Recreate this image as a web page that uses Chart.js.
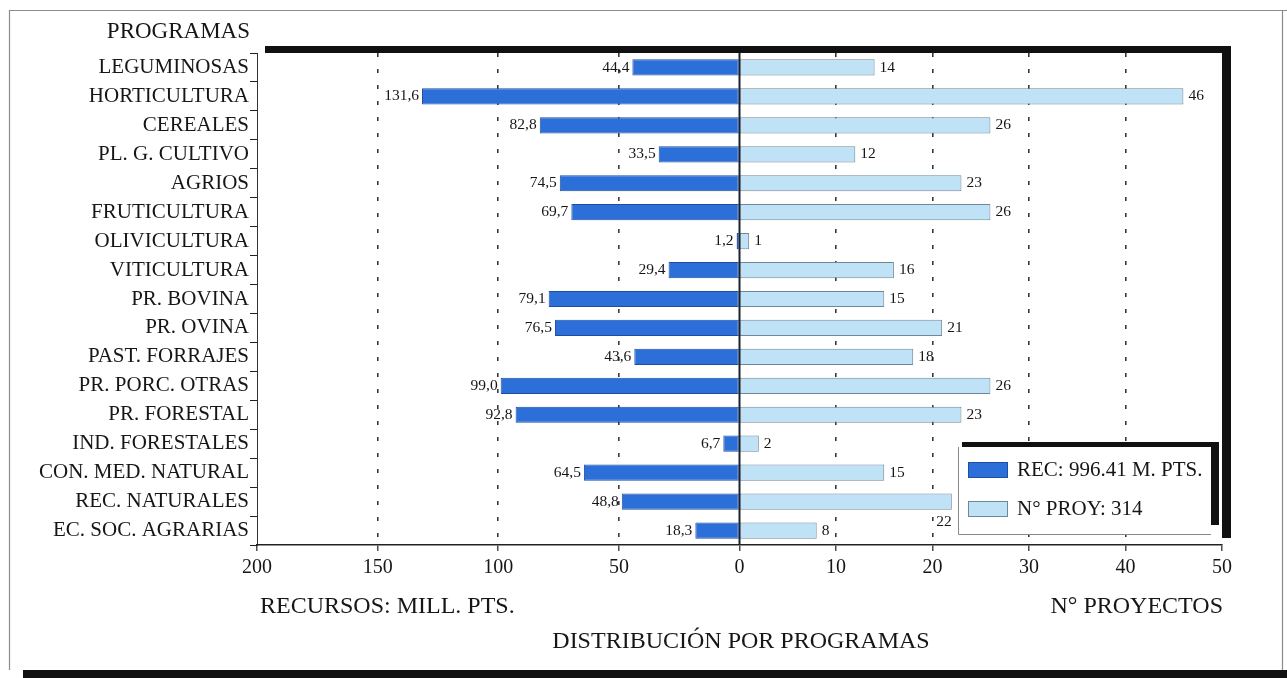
<!DOCTYPE html>
<html>
<head>
<meta charset="utf-8">
<script src="https://cdn.jsdelivr.net/npm/chart.js@4/dist/chart.umd.min.js"></script>
<style>
  html, body { margin: 0; padding: 0; background: #fff; }
  canvas { display: block; }
</style>
</head>
<body>
<canvas id="c" width="1287" height="678"></canvas>
<script>
// ---- data ----
const categories = [
  'LEGUMINOSAS', 'HORTICULTURA', 'CEREALES', 'PL. G. CULTIVO', 'AGRIOS',
  'FRUTICULTURA', 'OLIVICULTURA', 'VITICULTURA', 'PR. BOVINA', 'PR. OVINA',
  'PAST. FORRAJES', 'PR. PORC. OTRAS', 'PR. FORESTAL', 'IND. FORESTALES',
  'CON. MED. NATURAL', 'REC. NATURALES', 'EC. SOC. AGRARIAS'
];
const recursos = [44.4, 131.6, 82.8, 33.5, 74.5, 69.7, 1.2, 29.4, 79.1, 76.5, 43.6, 99.0, 92.8, 6.7, 64.5, 48.8, 18.3];
const proyectos = [14, 46, 26, 12, 23, 26, 1, 16, 15, 21, 18, 26, 23, 2, 15, 22, 8];
const recTicks = [200, 150, 100, 50, 0];
const proyTicks = [10, 20, 30, 40, 50];
const recMax = 200;
const proyMax = 50;
const recLegend = 'REC: 996.41 M. PTS.';
const proyLegend = 'N° PROY: 314';
const yTitle = 'PROGRAMAS';
const recTitle = 'RECURSOS: MILL. PTS.';
const proyTitle = 'N° PROYECTOS';
const mainTitle = 'DISTRIBUCIÓN POR PROGRAMAS';
const labelBelow = [15]; // value label drawn under the bar end (as in source)

// ---- styles ----
const SERIF = "'Liberation Serif', 'Times New Roman', serif";
const DARK = '#2c6fd9';
const DARK_BORDER = '#1d4f9e';
const LIGHT = '#bfe2f6';
const LIGHT_BORDER = '#6f8799';
const INK = '#161616';

Chart.defaults.font.family = SERIF;
Chart.defaults.color = INK;

const fmtRec = v => v.toFixed(1).replace('.', ',');

const decor = {
  id: 'decor',
  beforeDraw(chart) {
    const { ctx, chartArea: a } = chart;
    ctx.save();
    ctx.fillStyle = '#fff';
    ctx.fillRect(0, 0, chart.width, chart.height);
    // page frame
    ctx.strokeStyle = '#8c8c8c';
    ctx.lineWidth = 1.2;
    ctx.beginPath();
    ctx.moveTo(9.5, 670); ctx.lineTo(9.5, 10.5); ctx.lineTo(1287, 10.5);
    ctx.stroke();
    ctx.beginPath();
    ctx.moveTo(1282.5, 10); ctx.lineTo(1282.5, 670);
    ctx.stroke();
    ctx.fillStyle = '#111';
    ctx.fillRect(23, 670, chart.width - 23, 8);
    // plot shadow
    ctx.fillStyle = '#111';
    ctx.fillRect(a.left + 8, a.top - 7, a.width + 1, a.height);
    ctx.fillStyle = '#fff';
    ctx.fillRect(a.left, a.top, a.width, a.height);
    ctx.restore();
  },
  afterDatasetsDraw(chart) {
    const { ctx, chartArea: a } = chart;
    const xL = chart.scales.xL;
    ctx.save();
    // center line
    const cx = xL.getPixelForValue(0);
    ctx.strokeStyle = '#1b2233';
    ctx.lineWidth = 2;
    ctx.beginPath();
    ctx.moveTo(cx, a.top); ctx.lineTo(cx, a.bottom);
    ctx.stroke();
    // value labels
    ctx.font = '15.5px ' + SERIF;
    ctx.fillStyle = INK;
    ctx.textBaseline = 'middle';
    const m0 = chart.getDatasetMeta(0);
    const m1 = chart.getDatasetMeta(1);
    m0.data.forEach((bar, i) => {
      ctx.textAlign = 'right';
      ctx.fillText(fmtRec(recursos[i]), bar.x - 3, bar.y);
    });
    m1.data.forEach((bar, i) => {
      if (labelBelow.includes(i)) {
        ctx.textAlign = 'right';
        ctx.fillText(String(proyectos[i]), bar.x, bar.y + 20);
      } else {
        ctx.textAlign = 'left';
        ctx.fillText(String(proyectos[i]), bar.x + 5, bar.y);
      }
    });
    ctx.restore();
  },
  afterDraw(chart) {
    const { ctx, chartArea: a } = chart;
    ctx.save();
    // legend
    const L = 958, T = 447, R = 1211, B = 535;
    ctx.fillStyle = '#111';
    ctx.fillRect(L + 4, T - 5, R - L + 4, B - T - 5);
    ctx.fillStyle = '#fff';
    ctx.fillRect(L, T, R - L, B - T);
    ctx.strokeStyle = '#8a8a8a';
    ctx.lineWidth = 1;
    ctx.beginPath();
    ctx.moveTo(L + 0.5, T); ctx.lineTo(L + 0.5, B - 0.5); ctx.lineTo(R, B - 0.5);
    ctx.stroke();
    const ds = chart.data.datasets;
    const rows = [470, 509];
    ds.forEach((d, k) => {
      ctx.fillStyle = d.backgroundColor;
      ctx.fillRect(968, rows[k] - 8, 40, 16);
      ctx.strokeStyle = d.borderColor;
      ctx.lineWidth = 1;
      ctx.strokeRect(968.5, rows[k] - 7.5, 39, 15);
      ctx.fillStyle = INK;
      ctx.font = '21px ' + SERIF;
      ctx.textAlign = 'left';
      ctx.textBaseline = 'middle';
      ctx.fillText(d.label, 1017, rows[k]);
    });
    // titles
    ctx.fillStyle = INK;
    ctx.textBaseline = 'middle';
    ctx.font = '23px ' + SERIF;
    ctx.textAlign = 'right';
    ctx.fillText(yTitle, 250, 32);
    ctx.font = '24px ' + SERIF;
    ctx.textAlign = 'left';
    ctx.fillText(recTitle, 260, 607);
    ctx.textAlign = 'right';
    ctx.fillText(proyTitle, a.right + 1, 607);
    ctx.textAlign = 'center';
    ctx.fillText(mainTitle, 741, 642);
    ctx.restore();
  }
};

new Chart(document.getElementById('c'), {
  type: 'bar',
  data: {
    labels: categories,
    datasets: [
      {
        label: recLegend,
        data: recursos.map(v => -v),
        xAxisID: 'xL',
        backgroundColor: DARK,
        borderColor: DARK_BORDER,
        borderWidth: 1,
        borderSkipped: false
      },
      {
        label: proyLegend,
        data: proyectos,
        xAxisID: 'xR',
        backgroundColor: LIGHT,
        borderColor: LIGHT_BORDER,
        borderWidth: 1,
        borderSkipped: false
      }
    ]
  },
  options: {
    indexAxis: 'y',
    responsive: false,
    animation: false,
    devicePixelRatio: 1,
    datasets: { bar: { grouped: false, barPercentage: 0.56, categoryPercentage: 1 } },
    layout: { padding: { top: 53, right: 65, bottom: 93, left: 0 } },
    plugins: { legend: { display: false }, tooltip: { enabled: false } },
    scales: {
      y: {
        type: 'category',
        afterFit: s => { s.width = 257; },
        grid: { offset: true, drawOnChartArea: false, drawTicks: true, tickLength: 7, color: '#222', lineWidth: 1 },
        border: { display: true, color: '#333', width: 1 },
        ticks: { font: { size: 21 }, color: INK, padding: 1, autoSkip: false }
      },
      xL: {
        type: 'linear',
        position: 'bottom',
        min: -recMax,
        max: recMax,
        afterFit: s => { s.height = 40; },
        afterBuildTicks: s => {
          s.ticks = recTicks.map(v => ({ value: -v }))
            .concat(proyTicks.map(v => ({ value: v * recMax / proyMax })));
        },
        grid: {
          drawOnChartArea: true,
          drawTicks: true,
          tickLength: 6,
          lineWidth: 1.6,
          tickWidth: 1.2,
          tickColor: '#222',
          color: ctx => {
            const v = ctx.tick ? ctx.tick.value : 0;
            return (v === -recMax || v === 0 || v === recMax) ? 'rgba(0,0,0,0)' : '#3a3a3a';
          }
        },
        border: { display: true, color: '#222', width: 1.5, dash: [4, 12] },
        ticks: {
          font: { size: 20 },
          color: INK,
          padding: 5,
          maxRotation: 0,
          autoSkip: false,
          callback: v => (v <= 0 ? String(-v) : String(Math.round(v * proyMax / recMax)))
        }
      },
      xR: {
        type: 'linear',
        display: false,
        min: -proyMax,
        max: proyMax
      }
    }
  },
  plugins: [decor]
});
</script>
</body>
</html>
